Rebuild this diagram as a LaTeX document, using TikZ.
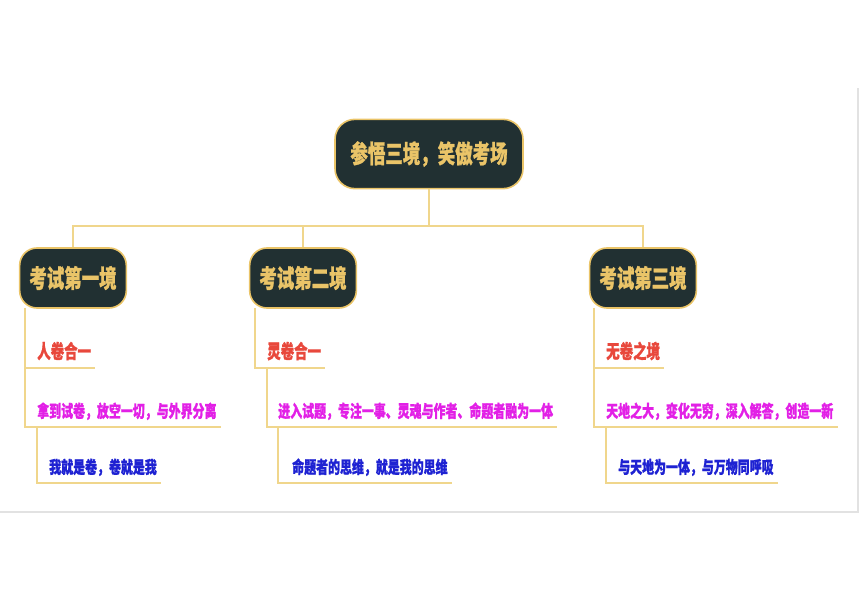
\documentclass[tikz,border=0pt]{standalone}
\usepackage{fontspec}
\usepackage{tikz}
\usetikzlibrary{positioning}
\newfontfamily\cjk[FakeStretch=0.70, BoldFeatures={FakeBold=1}]{Noto Sans CJK SC}
\definecolor{boxdark}{RGB}{33, 48, 50}
\definecolor{goldtext}{RGB}{234, 196, 104}
\definecolor{goldline}{RGB}{240, 214, 140}
\definecolor{itemred}{RGB}{232, 72, 60}
\definecolor{itemmag}{RGB}{226, 32, 230}
\definecolor{itemblue}{RGB}{30, 34, 210}
\definecolor{framegray}{RGB}{226, 226, 226}

\begin{document}
\begin{tikzpicture}[x=0.75pt, y=-0.75pt,
  topic/.style={draw=goldtext, line width=1.2pt, fill=boxdark, rounded corners=13pt, text=goldtext, inner sep=0pt, align=center, font=\cjk\bfseries\fontsize{18.7}{18.7}\selectfont},
  item/.style={anchor=south west, inner xsep=3pt, inner ysep=0pt, text depth=7pt},
  redtag/.style={item, text=itemred, font=\cjk\bfseries\fontsize{14.4}{14.4}\selectfont},
  magtag/.style={item, text=itemmag, font=\cjk\bfseries\fontsize{12.8}{12.8}\selectfont},
  bluetag/.style={item, text=itemblue, font=\cjk\bfseries\fontsize{12.8}{12.8}\selectfont},
  link/.style={draw=goldline, line width=1pt}]
  \useasboundingbox (0,0) rectangle (860,609);

  % page frame
  \draw[framegray, line width=0.8pt] (0,512) -- (858,512) -- (858,88);

  % Root
  \node[topic, minimum width=141pt, minimum height=52pt, rounded corners=15pt] (root) at (429,154) {参悟三境，笑傲考场};

  % Three stages
  \node[topic, minimum width=80pt, minimum height=45pt] (c1) at (73,278) {考试第一境};
  \node[topic, minimum width=80pt, minimum height=45pt] (c2) at (303,278) {考试第二境};
  \node[topic, minimum width=80pt, minimum height=45pt] (c3) at (643,278) {考试第三境};

  \coordinate (bus) at (429,226);
  \draw[link] (root) -- (bus) -| (c1);
  \draw[link] (bus) -| (c2);
  \draw[link] (bus) -| (c3);

  % Stage 1
  \coordinate (v1) at (25,308);
  \node[redtag] (r1) at (33,368) {人卷合一};
  \node[magtag] (m1) at (33,427) {拿到试卷，放空一切，与外界分离};
  \node[bluetag] (b1) at (45,483) {我就是卷，卷就是我};
  \draw[link] (v1) |- (r1.south east);
  \draw[link] (v1) |- (m1.south east);
  \draw[link] ([xshift=3pt]m1.south west) |- (b1.south east);

  % Stage 2
  \coordinate (v2) at (255,308);
  \node[redtag] (r2) at (263,368) {灵卷合一};
  \node[magtag] (m2) at (274,427) {进入试题，专注一事、灵魂与作者、命题者融为一体};
  \node[bluetag] (b2) at (288,483) {命题者的思维，就是我的思维};
  \draw[link] (v2) |- (r2.south east);
  \draw[link] ([xshift=3pt]r2.south west) |- (m2.south east);
  \draw[link] ([xshift=3pt]m2.south west) |- (b2.south east);

  % Stage 3
  \coordinate (v3) at (594,308);
  \node[redtag] (r3) at (602,368) {无卷之境};
  \node[magtag] (m3) at (602,427) {天地之大，变化无穷，深入解答，创造一新};
  \node[bluetag] (b3) at (614,483) {与天地为一体，与万物同呼吸};
  \draw[link] (v3) |- (r3.south east);
  \draw[link] (v3) |- (m3.south east);
  \draw[link] ([xshift=3pt]m3.south west) |- (b3.south east);
\end{tikzpicture}
\end{document}
